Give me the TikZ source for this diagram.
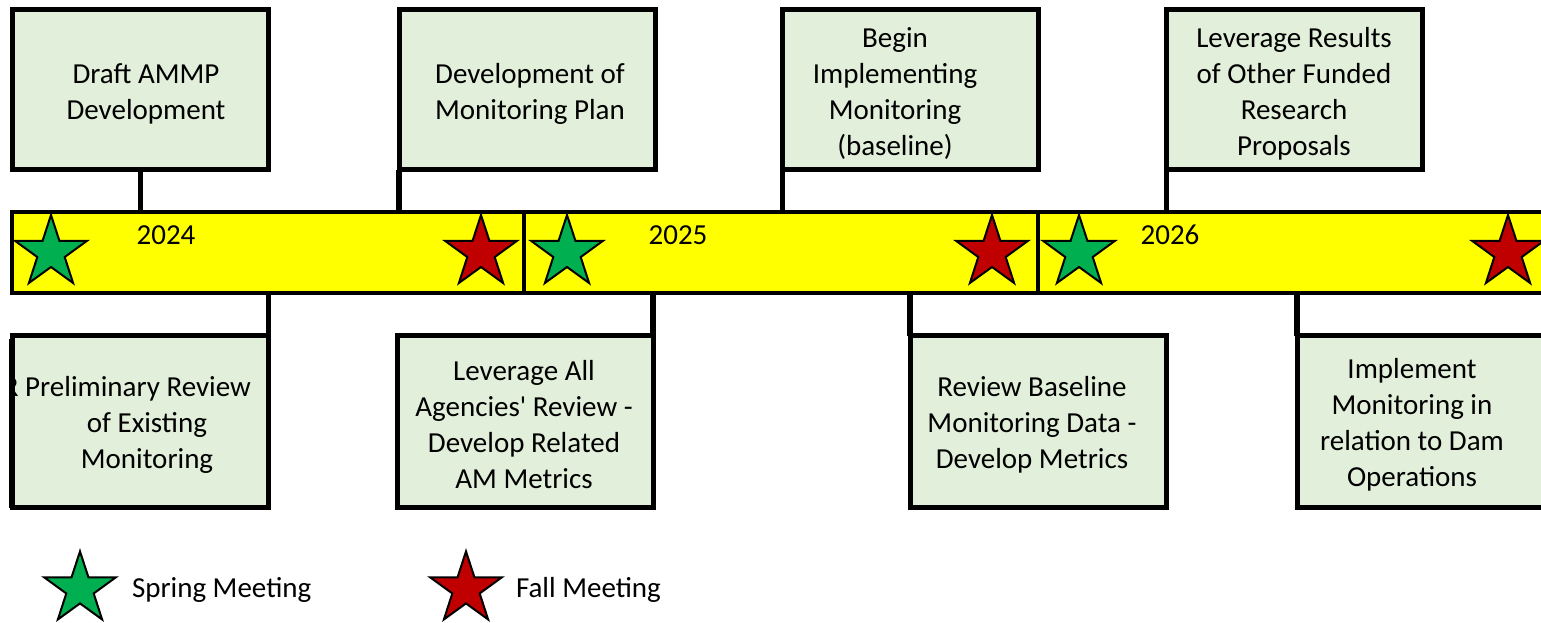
\documentclass[tikz,border=0pt]{standalone}
\usepackage{fontspec}
\setmainfont{Carlito}[Ligatures=TeXOff]
\definecolor{boxfill}{RGB}{226,239,218}
\definecolor{baryellow}{RGB}{255,255,0}
\definecolor{springgreen}{RGB}{0,176,80}
\definecolor{fallred}{RGB}{192,0,0}
\begin{document}
\begin{tikzpicture}[x=1pt,y=-1pt,
  every node/.style={inner sep=0pt,outer sep=0pt},
  txt/.style={font=\fontsize{29}{36}\selectfont,align=center,text=black},
  yeartxt/.style={font=\fontsize{29}{36}\selectfont,text=black},
  taskbox/.style={draw=black,line width=5pt,fill=boxfill,minimum width=256pt},
  topbox/.style={taskbox,minimum height=160pt},
  lowbox/.style={taskbox,minimum height=172pt},
  yearseg/.style={draw=black,line width=4.5pt,fill=baryellow,minimum height=81pt},
  link/.style={draw=black,line width=5.5pt},
  pics/meetstar/.style={code={
    \path[draw=black,line width=2pt,line join=miter,fill=#1]
      (270:37.6) -- (306:14.4) -- (342:37.6) -- (18:14.4) -- (54:37.6) --
      (90:14.4) -- (126:37.6) -- (162:14.4) -- (198:37.6) -- (234:14.4) -- cycle;
  }}]
\useasboundingbox (0,0) rectangle (1541,623);
\clip (0,0) rectangle (1541,623);

% year bar
\node[yearseg,minimum width=512pt] (y24) at (268,252.5) {};
\node[yearseg,minimum width=514pt] (y25) at (781,252.5) {};
\node[yearseg,minimum width=520pt] (y26) at (1298,252.5) {};
\node[yeartxt] (l24) at (166,235) {2024};
\node[yeartxt] (l25) at (678,235) {2025};
\node[yeartxt] (l26) at (1170,235) {2026};

% meetings on the bar
\pic at (51,252.6) {meetstar=springgreen};
\pic at (481,252.6) {meetstar=fallred};
\pic at (567,252.6) {meetstar=springgreen};
\pic at (992,252.6) {meetstar=fallred};
\pic at (1079,252.6) {meetstar=springgreen};
\pic at (1508,252.6) {meetstar=fallred};

% tasks above the bar
\node[topbox] (a1) at (140.5,89.5) {};
\node[topbox] (a2) at (527,89.5) {};
\node[topbox] (a3) at (910.5,89.5) {};
\node[topbox] (a4) at (1294.5,89.5) {};
\draw[link] (a1.south) -- (a1.south |- y24.north);
\draw[link] (a2.south west) -- (a2.south west |- y24.north);
\draw[link] (a3.south west) -- (a3.south west |- y25.north);
\draw[link] (a4.south west) -- (a4.south west |- y26.north);
\node[txt] (ta1) at (146,94) {Draft AMMP\\Development};
\node[txt] (ta2) at (530,94) {Development of\\Monitoring Plan};
\node[txt] (ta3) at (895,94) {Begin\\Implementing\\Monitoring\\(baseline)};
\node[txt] (ta4) at (1294,94) {Leverage Results\\of Other Funded\\Research\\Proposals};

% tasks below the bar
\node[lowbox] (b1) at (140.5,421.5) {};
\node[lowbox] (b2) at (525,421.5) {};
\node[lowbox] (b3) at (1038,421.5) {};
\node[lowbox] (b4) at (1425,421.5) {};
\draw[link] (b1.north east) -- (b1.north east |- y24.south);
\draw[link] (b2.north east) -- (b2.north east |- y25.south);
\draw[link] (b3.north west) -- (b3.north west |- y25.south);
\draw[link] (b4.north west) -- (b4.north west |- y26.south);
\begin{scope}
  \clip (b1.north west) rectangle (b1.south east);
  \node[txt] (tb1) at (147,425) {\hspace*{-18pt}\llap{R\ }Preliminary Review\\of Existing\\Monitoring};
\end{scope}
\draw[line width=5pt] (b1.north west) rectangle (b1.south east);
\draw[line width=3pt] ([xshift=-2pt,yshift=-3pt]b1.north west) -- ([xshift=-2pt]b1.south west);
\node[txt] (tb2) at (524,425) {Leverage All\\Agencies' Review -\\Develop Related\\AM Metrics};
\node[txt] (tb3) at (1032,425) {Review Baseline\\Monitoring Data -\\Develop Metrics};
\node[txt] (tb4) at (1412,425) {Implement\\Monitoring in\\relation to Dam\\Operations};

% legend
\pic at (80,589) {meetstar=springgreen};
\node[yeartxt,anchor=west] (ls) at (132,590) {Spring Meeting};
\pic at (466,589) {meetstar=fallred};
\node[yeartxt,anchor=west] (lf) at (516,590) {Fall Meeting};
\end{tikzpicture}
\end{document}
